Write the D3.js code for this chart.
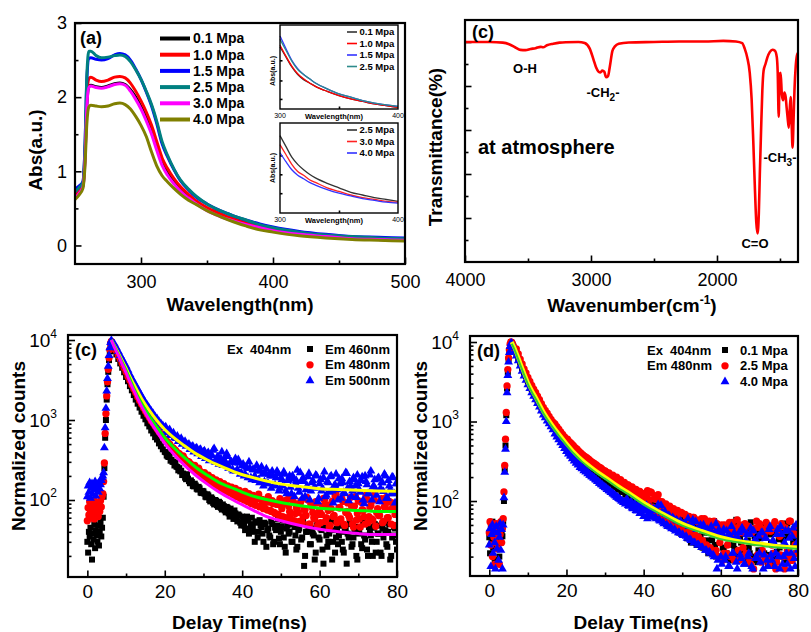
<!DOCTYPE html>
<html>
<head>
<meta charset="utf-8">
<script src="https://cdn.jsdelivr.net/npm/d3@7"></script>
<style>
  body { margin: 0; background: #fff; }
  svg { font-family: "Liberation Sans", Arial, Helvetica, sans-serif; }
</style>
</head>
<body>
<svg id="fig" width="811" height="632"></svg>
<script>
// ---------- (a) UV-vis absorption ----------
const wavelength = [250,253,256,257.5,259,260.5,262,266,270,275,280,284,288,292,296,300,304,308,312,316,320,325,330,336,342,350,360,370,380,390,400,420,440,460,480,500];
const abs01 = [0.66,0.72,0.80,1.15,1.9,2.14,2.16, 2.14,2.13,2.15,2.18,2.19,2.17,2.10,2.00, 1.87,1.72,1.55,1.33,1.12,0.99,0.86,0.75, 0.66,0.58,0.49,0.41,0.35,0.30,0.25,0.21, 0.15,0.12,0.10,0.08,0.07];
const abs10 = [0.68,0.74,0.82,1.2,2.0,2.25,2.27, 2.23,2.21,2.23,2.27,2.28,2.26,2.19,2.08, 1.95,1.80,1.62,1.40,1.18,1.04,0.90,0.79, 0.69,0.60,0.51,0.43,0.36,0.31,0.26,0.22, 0.16,0.13,0.10,0.09,0.08];
const abs15 = [0.76,0.80,0.86,1.3,2.25,2.52,2.53, 2.51,2.50,2.52,2.57,2.59,2.57,2.50,2.38, 2.24,2.07,1.88,1.64,1.37,1.20,1.02,0.87, 0.75,0.65,0.56,0.47,0.40,0.34,0.29,0.25, 0.19,0.15,0.12,0.11,0.10];
const abs25 = [0.72,0.78,0.85,1.3,2.3,2.62,2.62, 2.56,2.53,2.54,2.56,2.57,2.55,2.48,2.37, 2.24,2.08,1.90,1.67,1.40,1.22,1.03,0.88, 0.76,0.66,0.56,0.47,0.40,0.34,0.28,0.24, 0.18,0.14,0.12,0.10,0.09];
const abs30 = [0.64,0.70,0.79,1.12,1.88,2.13,2.15, 2.13,2.12,2.14,2.17,2.18,2.16,2.08,1.97, 1.84,1.68,1.50,1.28,1.08,0.95,0.83,0.73, 0.64,0.56,0.47,0.39,0.33,0.28,0.24,0.20, 0.15,0.12,0.09,0.08,0.07];
const abs40 = [0.62,0.68,0.77,1.05,1.65,1.87,1.89, 1.88,1.87,1.88,1.91,1.92,1.90,1.84,1.74, 1.62,1.47,1.26,1.07,0.94,0.86,0.77,0.69, 0.61,0.55,0.47,0.39,0.32,0.26,0.21,0.18, 0.13,0.10,0.08,0.07,0.06];
const pressureLabels = ['0.1 Mpa','1.0 Mpa','1.5 Mpa','2.5 Mpa','3.0 Mpa','4.0 Mpa'];
const wlTicks = [300, 400, 500];
const absTicks = [0, 1, 2, 3];

// insets of (a)
const insetWl = [300,305,310,315,320,325,330,340,350,360,370,380,390,400];
const insetTop01 = [0.74,0.62,0.50,0.41,0.35,0.31,0.27,0.21,0.16,0.12,0.09,0.06,0.04,0.02];
const insetTop10 = [0.76,0.63,0.51,0.42,0.36,0.31,0.27,0.21,0.16,0.12,0.09,0.06,0.04,0.02];
const insetTop15 = [0.87,0.72,0.58,0.48,0.41,0.36,0.31,0.24,0.18,0.14,0.10,0.07,0.05,0.03];
const insetTop25 = [0.83,0.70,0.57,0.47,0.41,0.36,0.31,0.24,0.18,0.14,0.10,0.07,0.05,0.03];
const insetBot25 = [0.86,0.74,0.62,0.54,0.48,0.43,0.39,0.33,0.28,0.23,0.20,0.17,0.15,0.13];
const insetBot30 = [0.76,0.65,0.54,0.46,0.42,0.37,0.34,0.28,0.24,0.20,0.17,0.15,0.13,0.12];
const insetBot40 = [0.67,0.57,0.48,0.42,0.38,0.34,0.31,0.26,0.22,0.19,0.16,0.14,0.12,0.11];

// ---------- (c) FTIR ----------
const irWavenumber = [4000,3900,3800,3700,3650,3600,3560,3520,3480,3440, 3400,3380,3350,3300,3250,3200,3100,3050,3010,2980,
  2960,2940,2925,2910,2895,2880,2865,2850,2830,2810, 2780,2700,2500,2300,2100,1950,1850,1800,1780,1760,
  1740,1725,1712,1700,1688,1678,1668,1660,1650,1640, 1630,1615,1600,1580,1560,1540,1525,1518,1510,1503,
  1495,1485,1475,1465,1455,1447,1440,1430,1422,1415, 1407,1400,1392,1385,1375,1365,1358];
const irTransmittance = [10.0,10.0,10.0,9.97,9.9,9.75,9.64,9.63,9.68,9.72, 9.78,9.76,9.85,9.92,9.97,9.99,10.0,9.95,9.7,9.2,
  8.85,8.65,8.62,8.7,8.65,8.4,8.45,8.9,9.6,9.8, 9.92,9.98,10.0,10.02,10.02,10.05,10.02,9.95,9.7,9.3,
  8.6,7.4,5.5,3.5,1.8,1.3,2.2,4.0,6.0,7.8, 8.7,9.0,9.3,9.55,9.65,9.6,9.3,8.6,6.6,8.5,
  8.6,7.6,7.35,7.7,7.5,7.0,6.6,6.1,7.0,7.5, 6.2,5.2,6.5,7.8,8.9,9.4,9.5];
const irTicks = [4000, 3000, 2000];

// ---------- (c)/(d) decays ----------
const decayTime = [0,0.2,0.4,0.6,0.8,1,1.2,1.4,1.6,1.8,2,2.2,2.4,2.6,2.8,3,3.2,3.4,3.6,3.8,4,
  4.2,4.4,4.6,4.8,5,5.2,5.4,5.6,5.8,6,6.2,6.6,
  7,7.5,8,8.5,9,9.5,10,10.5,11,11.5, 12,12.5,13,13.5,14,14.5,15,15.5,16,16.5,
  17,17.5,18,18.5,19,19.5,20,20.5,21,21.5, 22,22.5,23,23.5,24,24.5,25,25.5,26,26.5,
  27,27.5,28,28.5,29,29.5,30,30.5,31,31.5, 32,32.5,33,33.5,34,34.5,35,35.5,36,36.5,
  37,37.5,38,38.5,39,39.5,40,40.5,41,41.5, 42,42.5,43,43.5,44,44.5,45,45.5,46,46.5,
  47,47.5,48,48.5,49,49.5,50,50.5,51,51.5, 52,52.5,53,53.5,54,54.5,55,55.5,56,56.5,
  57,57.5,58,58.5,59,59.5,60,60.5,61,61.5, 62,62.5,63,63.5,64,64.5,65,65.5,66,66.5,
  67,67.5,68,68.5,69,69.5,70,70.5,71,71.5, 72,72.5,73,73.5,74,74.5,75,75.5,76,76.5,
  77,77.5,78,78.5,79,79.5,80];
// interleaved channels of the tail
const decayTimeB = [20.25,20.75,21.25,21.75,22.25,22.75,23.25,23.75,24.25,24.75,
  25.25,25.75,26.25,26.75,27.25,27.75,28.25,28.75,29.25,29.75,
  30.25,30.75,31.25,31.75,32.25,32.75,33.25,33.75,34.25,34.75,
  35.25,35.75,36.25,36.75,37.25,37.75,38.25,38.75,39.25,39.75,
  40.25,40.75,41.25,41.75,42.25,42.75,43.25,43.75,44.25,44.75,
  45.25,45.75,46.25,46.75,47.25,47.75,48.25,48.75,49.25,49.75,
  50.25,50.75,51.25,51.75,52.25,52.75,53.25,53.75,54.25,54.75,
  55.25,55.75,56.25,56.75,57.25,57.75,58.25,58.75,59.25,59.75,
  60.25,60.75,61.25,61.75,62.25,62.75,63.25,63.75,64.25,64.75,
  65.25,65.75,66.25,66.75,67.25,67.75,68.25,68.75,69.25,69.75,
  70.25,70.75,71.25,71.75,72.25,72.75,73.25,73.75,74.25,74.75,
  75.25,75.75,76.25,76.75,77.25,77.75,78.25,78.75,79.25,79.75];

const em460 = [30,22,40,35,45,28,18,38,32,50,25,42,36,30,48,27,40,52,35,45,60,
  110,250,600,1000,1800,2800,4000,5600,7200,8800,9400,8200,
  7300,6600,5800,5100,4500,3950,3450,3050,2650,2350, 2050,1800,1600,1430,1270,1130,1020,910,830,740,
  680,610,570,510,470,430,400,360,345,310, 300,270,262,235,228,205,205,182,185,162,
  168,148,152,135,140,122,128,110,118,100, 108,92,100,86,95,80,88,74,82,68,
  78,64,74,58,66,52,62,48,58,55, 44,60,40,52,34,56,46,30,50,42,
  36,54,28,45,48,33,40,55,26,44, 38,50,30,46,24,42,52,34,15,40,
  48,28,44,36,22,50,32,42,16,46, 26,38,54,30,22,44,36,48,24,40,
  16,34,50,28,42,20,38,46,25,36, 52,20,40,30,45,22,38,48,20,34,
  42,26,50,20,36,44,24];
const em460B = [395,350,372,318,300,292,258,250,232,214, 190,210,172,176,150,160,138,146,124,130,
  120,108,114,96,104,88,98,82,92,76, 84,70,80,62,72,58,68,54,64,48,
  56,42,62,38,50,46,30,54,40,48, 38,52,26,44,34,50,30,42,58,28,
  46,34,22,48,40,30,52,36,26,44, 32,56,20,40,46,28,38,18,48,34,
  44,24,50,36,30,56,18,42,34,28, 48,30,22,44,38,52,26,34,46,18,
  40,28,54,32,24,46,36,20,50,30, 38,22,44,52,28,40,18,34,46,30];
const em480 = [55,80,65,95,70,60,88,75,100,58,85,68,92,78,62,90,72,98,82,110,120,
  170,290,680,1200,2000,3000,4300,6000,7600,9000,9600,8400,
  8000,7300,6400,5800,5100,4500,4000,3500,3150,2750, 2450,2200,1950,1750,1580,1420,1300,1180,1080,980,
  920,840,780,720,670,620,570,540,500,470, 450,410,400,360,350,320,330,290,300,260,
  270,240,250,220,230,200,215,185,195,170, 185,160,172,150,162,140,155,130,148,125,
  140,118,135,110,128,105,122,100,118,95, 112,90,108,86,104,82,100,78,96,75,
  94,72,90,68,88,64,86,62,98,58, 84,66,110,55,80,70,92,52,76,64,
  100,50,82,60,95,48,74,66,105,54, 86,46,78,62,112,52,80,58,96,48,
  72,64,108,50,84,56,98,46,76,62, 115,52,82,58,100,47,78,64,104,54,
  88,60,96,50,80,66,92];
const em480B = [565,520,500,455,440,420,390,380,345,355, 320,305,300,280,265,270,240,250,225,215,
  220,196,205,180,190,168,178,160,170,148, 160,138,150,132,145,118,140,112,132,120,
  106,128,98,120,92,114,88,106,118,84, 102,80,95,110,74,98,70,92,66,104,
  78,90,60,102,72,56,94,68,82,54, 98,62,76,108,50,88,70,58,92,66,
  52,84,100,60,74,48,96,64,118,56, 80,104,50,70,92,60,84,46,110,68,
  58,94,74,50,102,62,86,56,120,70, 64,98,52,82,108,60,76,92,48,86];
const em500 = [110,150,125,165,105,140,160,118,150,135,170,112,145,158,125,165,138,155,175,190,200,
  220,450,800,1400,2300,3300,4700,6400,8000,9300,9900,8700,
  8900,8000,7200,6400,5800,5200,4700,4200,3700,3300, 3000,2700,2450,2200,2000,1800,1650,1520,1400,1290,
  1200,1100,1040,960,900,850,800,740,720,660, 650,600,590,540,560,500,520,470,490,430,
  460,400,440,380,420,350,400,330,380,310, 360,420,300,340,280,330,270,310,380,250,
  300,240,290,230,320,210,270,200,260,190, 250,180,240,175,230,165,260,150,220,160,
  210,140,200,155,230,130,190,150,210,120, 180,145,200,110,175,140,220,105,170,135,
  195,100,165,140,205,95,160,130,190,110, 170,125,200,92,155,135,185,105,165,120,
  215,98,150,130,180,108,160,125,195,90, 170,120,205,100,150,135,185,95,165,128,
  200,105,150,120,190,92,160];
const em500B = [820,700,760,640,690,600,630,560,590,520, 540,480,500,450,470,410,450,390,430,360,
  410,350,390,320,360,440,300,350,290,400, 320,270,350,250,300,230,330,240,290,220,
  280,210,250,300,190,240,200,270,180,230, 210,170,245,160,200,230,150,190,215,140,
  180,225,130,175,200,120,185,160,235,125, 170,190,110,150,215,130,175,145,200,105,
  180,140,225,115,165,195,130,150,210,100, 160,185,125,220,140,170,110,190,150,205,
  135,175,100,200,155,120,230,145,180,115, 190,140,165,210,105,175,135,195,120,160];

const p01 = [35,22,48,30,55,26,40,18,45,33,52,28,38,20,50,30,42,36,55,100,250,
  500,1200,2600,4200,6000,7800,9200,9900,9800,9300,8800,8000,
  7300,6300,5500,4700,4100,3700,3200,2900,2550,2300, 2100,1850,1700,1500,1360,1220,1150,1020,960,870,
  820,740,700,630,600,530,510,460,450,400, 400,360,360,320,325,290,300,270,280,245,
  265,225,240,210,225,195,210,180,195,165, 180,150,170,140,160,130,150,122,140,112,
  130,105,120,96,112,88,105,80,98,75, 92,70,85,66,80,62,78,56,72,52,
  70,48,64,45,60,42,58,40,62,36, 55,34,50,30,48,28,52,26,45,32,
  40,24,46,28,42,20,38,26,44,22, 36,18,40,25,58,20,34,24,42,18,
  32,22,44,20,30,17,38,22,35,19, 46,21,30,16,40,23,33,20,52,18,
  36,24,55,19,32,22,45];
const p01B = [500,470,440,420,385,370,350,330,320,300, 290,305,255,275,240,250,215,230,200,215,
  175,205,165,185,150,172,140,160,130,150, 120,145,112,132,100,125,95,114,88,108,
  82,100,76,94,70,88,64,82,60,78, 56,74,52,70,48,66,44,62,40,58,
  38,60,34,55,30,50,44,28,52,36, 26,48,40,22,45,32,56,20,38,30,
  42,24,50,34,18,44,28,52,22,38, 30,46,20,40,26,54,18,36,44,24,
  34,50,22,42,16,38,28,48,20,40, 26,44,32,18,52,24,40,30,46,22];
const p25 = [40,55,28,50,20,45,35,16,52,30,42,25,48,16,38,55,30,45,60,130,280,
  600,1300,2800,4500,6300,8000,9400,10000,9800,9400,8900,8100,
  8200,7100,6100,5300,4600,4100,3600,3200,2850,2560, 2320,2080,1880,1680,1500,1380,1270,1160,1060,980,
  930,860,800,740,690,640,600,560,520,500, 470,440,420,390,380,350,350,330,320,300,
  300,280,275,260,258,240,240,225,225,210, 212,195,200,180,185,168,172,158,160,150,
  150,138,140,128,132,120,122,112,135,104, 128,76,115,72,100,66,88,62,80,58,
  76,54,72,50,66,46,70,42,64,38, 58,35,62,32,55,30,60,28,50,26,
  56,24,48,22,52,20,46,18,50,22, 44,20,54,18,46,24,50,19,42,22,
  48,18,40,14,46,21,52,17,44,20, 50,16,42,22,55,17,40,21,48,14,
  44,20,56,18,38,22,50];
const p25B = [600,560,530,500,470,450,420,400,380,365, 350,335,320,305,295,285,270,262,250,240,
  232,220,212,200,195,186,178,170,165,156, 150,160,138,148,128,140,120,132,112,125,
  96,112,88,130,84,106,78,120,74,98, 70,92,64,86,60,80,56,76,52,72,
  50,68,46,64,42,62,38,58,35,54, 32,60,28,52,26,48,56,24,44,30,
  50,22,46,28,54,20,42,34,58,18, 40,26,52,22,48,16,44,30,56,20,
  46,24,38,54,18,42,28,50,14,44, 36,52,20,46,24,56,18,40,28,48];
const p40 = [28,45,15,38,50,22,42,30,14,48,25,40,18,35,52,24,44,14,50,110,230,
  450,1000,2300,3800,5600,7400,8800,9600,9700,9100,8500,7600,
  6700,5800,5000,4300,3750,3300,2900,2600,2300,2080, 1880,1690,1520,1360,1210,1120,1020,940,860,790,
  700,640,590,540,500,460,420,390,370,340, 320,300,285,265,255,240,232,220,212,202,
  195,185,176,168,160,154,148,140,135,128, 124,118,112,108,104,100,96,104,88,95,
  82,90,76,86,70,80,64,76,60,72, 66,80,62,76,58,88,54,74,50,66,
  47,62,44,58,40,56,38,52,36,60, 33,50,30,55,28,46,26,50,24,44,
  23,48,21,40,14,44,20,38,18,42, 15,36,22,40,17,34,21,46,16,32,
  20,38,15,42,19,30,22,40,14,34, 18,44,21,32,15,38,20,48,16,30,
  22,42,14,36,19,50,24];
const p40B = [430,400,370,350,325,305,290,272,260,248, 236,224,212,202,194,184,176,168,160,152,
  146,140,134,128,122,116,112,106,100,96, 92,104,86,98,80,92,75,86,70,82,
  75,88,70,82,64,78,60,90,56,72, 52,68,48,64,45,60,42,56,40,54,
  37,52,34,48,32,58,30,44,28,50, 26,46,24,42,22,40,20,52,18,38,
  16,44,20,36,15,48,22,34,14,40, 19,42,16,38,22,46,14,32,20,36,
  17,40,21,34,15,48,18,30,22,44, 14,38,20,42,16,34,22,46,15,30];

// fitted decay curves
const fitTimeC = [6.2,7,8,9,10,11,12,14,16,18,20,22,25,28,31,34,38,42,46,50,55,60,65,70,75,80];
const fit500 = [10000,8500,6900,5500,4450,3470,2820,1860,1320,980,760,620,480,380,316,270,224,195,174,158,148,138,135,132,130,129];
const fit480 = [10000,8300,6600,5250,4170,3240,2510,1620,1120,810,600,470,340,257,204,166,138,115,102,93,85,79,76,74,72,72];
const fit460 = [10000,8100,6450,5000,3900,3000,2340,1480,1000,710,510,390,275,204,158,126,98,78,63,55,48,43,40,38,37,37];
const fitTimeD = [5.8,6.5,7,8,9,10,11,12,14,16,18,20,22,24,26,28,30,33,36,40,45,50,55,60,65,70,75,80];
const fitDa = [10000,8500,7400,5500,4100,3100,2480,2030,1340,950,700,530,410,330,275,232,200,158,128,95,69,52,42,35,31,29,27,26];
const fitDb = [9500,8100,7000,5200,3900,2950,2350,1930,1270,900,665,505,390,313,261,220,190,150,122,90,66,49,40,33,30,27.5,26,25];
const timeTicks = [0, 20, 40, 60, 80];
const countTicks = [100, 1000, 10000];

// ================= drawing =================
const svg = d3.select('#fig');
const FONT = '"Liberation Sans", Arial, Helvetica, sans-serif';
const intFmt = d3.format('d');
svg.append('rect').attr('width', 811).attr('height', 632).attr('fill', '#fff');

function cleanAxis(sel, fs) {
  sel.attr('font-family', FONT).attr('font-size', fs);
  sel.select('.domain').remove();
  sel.selectAll('.tick line').attr('stroke', '#000').attr('stroke-width', 1.6);
  sel.selectAll('.tick text').attr('fill', '#000');
}
function frame(x0, y0, x1, y1, w) {
  svg.append('rect').attr('x', x0).attr('y', y0).attr('width', x1 - x0).attr('height', y1 - y0)
    .attr('fill', 'none').attr('stroke', '#000').attr('stroke-width', w || 2.2);
}
function clipRect(id, x0, y0, x1, y1) {
  svg.append('clipPath').attr('id', id).append('rect')
    .attr('x', x0).attr('y', y0).attr('width', x1 - x0).attr('height', y1 - y0);
  return svg.append('g').attr('clip-path', 'url(#' + id + ')');
}
function label(x, y, str, fs, opt) {
  opt = opt || {};
  const t = svg.append('text').attr('x', x).attr('y', y).attr('dy', '0.35em')
    .attr('font-size', fs).attr('font-weight', opt.weight || 'bold')
    .attr('text-anchor', opt.anchor || 'start').style('white-space', 'pre').text(str);
  if (opt.rotate) t.attr('transform', 'rotate(-90,' + x + ',' + y + ')');
  return t;
}

// ---------- panel (a) ----------
const ax = d3.scaleLinear().domain([250, 500]).range([75, 405]);
const ay = d3.scaleLinear().domain([-0.25, 3]).range([264, 23]);
svg.append('g').attr('transform', 'translate(0,264)')
  .call(d3.axisBottom(ax).tickValues([350, 450]).tickSize(-3.5).tickFormat('')).call(cleanAxis, 18);
svg.append('g').attr('transform', 'translate(0,264)')
  .call(d3.axisBottom(ax).tickValues(wlTicks).tickSize(-6.5).tickPadding(11).tickFormat(intFmt)).call(cleanAxis, 18);
svg.append('g').attr('transform', 'translate(75,0)')
  .call(d3.axisLeft(ay).tickValues([0.5, 1.5, 2.5]).tickSize(-3.5).tickFormat('')).call(cleanAxis, 18);
svg.append('g').attr('transform', 'translate(75,0)')
  .call(d3.axisLeft(ay).tickValues(absTicks).tickSize(-6.5).tickPadding(8).tickFormat(intFmt)).call(cleanAxis, 18);

const absSeries = [abs01, abs10, abs15, abs25, abs30, abs40];
const absColors = ['#000000', '#ff0000', '#0000ff', '#008080', '#ff00ff', '#808000'];
const gA = clipRect('clipA', 75, 23, 405, 264);
const aLine = d3.line().x(d => ax(d[0])).y(d => ay(d[1])).curve(d3.curveMonotoneX);
absSeries.forEach((vals, k) => {
  gA.append('path').datum(wavelength.map((w, i) => [w, vals[i]]))
    .attr('d', aLine).attr('fill', 'none').attr('stroke', absColors[k]).attr('stroke-width', 3);
});
frame(75, 23, 405, 264);
label(80, 38, '(a)', 18);
pressureLabels.forEach((p, i) => {
  const y = 38.5 + i * 16.2;
  svg.append('line').attr('x1', 160).attr('x2', 190).attr('y1', y).attr('y2', y)
    .attr('stroke', absColors[i]).attr('stroke-width', 4);
  label(193, y, p, 14);
});
label(35, 150, 'Abs(a.u.)', 19, { anchor: 'middle', rotate: true });
label(240, 304, 'Wavelength(nm)', 19, { anchor: 'middle' });

// insets
function inset(y0, y1, series, colors, names, yTicks, legendY, titleY) {
  const ix = d3.scaleLinear().domain([300, 400]).range([280, 398]);
  const iy = d3.scaleLinear().domain([0, 1]).range([y1, y0]);
  svg.append('rect').attr('x', 280).attr('y', y0).attr('width', 118).attr('height', y1 - y0).attr('fill', '#fff');
  svg.append('g').attr('transform', 'translate(0,' + y1 + ')')
    .call(d3.axisBottom(ix).tickValues([350]).tickSize(-2.5).tickFormat('')).call(cleanAxis, 7);
  svg.append('g').attr('transform', 'translate(280,0)')
    .call(d3.axisLeft(iy).tickValues(yTicks).tickSize(-2.5).tickFormat('')).call(cleanAxis, 7);
  const ln = d3.line().x(d => ix(d[0])).y(d => iy(d[1])).curve(d3.curveMonotoneX);
  series.forEach((vals, k) => {
    svg.append('path').datum(insetWl.map((w, i) => [w, vals[i]])).attr('d', ln)
      .attr('fill', 'none').attr('stroke', colors[k]).attr('stroke-width', 1.3);
  });
  frame(280, y0, 398, y1, 1.4);
  names.forEach((n, i) => {
    const y = legendY + i * 11.5;
    svg.append('line').attr('x1', 347).attr('x2', 357).attr('y1', y).attr('y2', y)
      .attr('stroke', colors[i]).attr('stroke-width', 1.6);
    label(359.5, y, n, 9.5);
  });
  label(280, y1 + 7, '300', 7, { anchor: 'middle', weight: 'normal' });
  label(398, y1 + 7, '400', 7, { anchor: 'middle', weight: 'normal' });
  label(334, y1 + 7.5, 'Wavelength(nm)', 7.5, { anchor: 'middle' });
  label(273, titleY, 'Abs(a.u.)', 7, { anchor: 'middle', rotate: true });
}
inset(25, 109, [insetTop01, insetTop10, insetTop15, insetTop25], ['#333333', '#ff0000', '#3333ff', '#2e8b8b'],
  pressureLabels.slice(0, 4), [0.12, 0.34, 0.58], 32, 71);
inset(123, 213, [insetBot25, insetBot30, insetBot40], ['#333333', '#ff2222', '#3333ff'],
  ['2.5 Mpa', '3.0 Mpa', '4.0 Mpa'], [0.22, 0.43, 0.64], 130, 168);

// ---------- panel (c) FTIR ----------
const irx = d3.scaleLinear().domain([4000, 1357]).range([465, 798]);
const iry = d3.scaleLinear().domain([0, 11]).range([262, 20]);
svg.append('g').attr('transform', 'translate(0,262)')
  .call(d3.axisBottom(irx).tickValues([3500, 2500, 1500]).tickSize(-3.5).tickFormat('')).call(cleanAxis, 18);
svg.append('g').attr('transform', 'translate(0,262)')
  .call(d3.axisBottom(irx).tickValues(irTicks).tickSize(-6.5).tickPadding(11).tickFormat(intFmt)).call(cleanAxis, 18);
svg.append('g').attr('transform', 'translate(465,0)')
  .call(d3.axisLeft(iry).tickValues([1, 3, 5, 7, 9]).tickSize(-3.5).tickFormat('')).call(cleanAxis, 18);
svg.append('g').attr('transform', 'translate(465,0)')
  .call(d3.axisLeft(iry).tickValues([2, 4, 6, 8, 10]).tickSize(-6.5).tickFormat('')).call(cleanAxis, 18);
const gIR = clipRect('clipIR', 465, 20, 798, 262);
gIR.append('path').datum(irWavenumber.map((w, i) => [w, irTransmittance[i]]))
  .attr('d', d3.line().x(d => irx(d[0])).y(d => iry(d[1])).curve(d3.curveMonotoneX))
  .attr('fill', 'none').attr('stroke', '#ff0000').attr('stroke-width', 2.6);
frame(465, 20, 798, 262);
label(472, 32, '(c)', 18);
label(525, 68, 'O-H', 13, { anchor: 'middle' });
const ch2 = label(603, 92, '-CH', 13, { anchor: 'middle' });
ch2.append('tspan').attr('dy', 4).attr('font-size', 10).text('2');
ch2.append('tspan').attr('dy', -4).text('-');
label(478, 147, 'at atmosphere', 20);
label(755, 243, 'C=O', 13, { anchor: 'middle' });
const ch3 = label(780, 157, '-CH', 13, { anchor: 'middle' });
ch3.append('tspan').attr('dy', 4).attr('font-size', 10).text('3');
ch3.append('tspan').attr('dy', -4).text('-');
label(435, 147, 'Transmittance(%)', 19, { anchor: 'middle', rotate: true });
const wn = label(632, 305, 'Wavenumber(cm', 19, { anchor: 'middle' });
wn.append('tspan').attr('dy', -8).attr('font-size', 12).text('-1');
wn.append('tspan').attr('dy', 8).text(')');

// ---------- decay panels ----------
const logMinor = [];
[10, 100, 1000].forEach(b => { for (let m = 2; m <= 9; m++) logMinor.push(b * m); });

function decayPanel(o) {
  const x = d3.scaleLinear().domain([-5, 80]).range([o.x0, o.x1]);
  const y = d3.scaleLog().domain(o.yDomain).range([o.y1, o.y0]);
  svg.append('g').attr('transform', 'translate(0,' + o.y1 + ')')
    .call(d3.axisBottom(x).tickValues([10, 30, 50, 70]).tickSize(-3.5).tickFormat('')).call(cleanAxis, 19);
  svg.append('g').attr('transform', 'translate(0,' + o.y1 + ')')
    .call(d3.axisBottom(x).tickValues(timeTicks).tickSize(-6.5).tickPadding(8).tickFormat(intFmt)).call(cleanAxis, 19);
  svg.append('g').attr('transform', 'translate(' + o.x0 + ',0)')
    .call(d3.axisLeft(y).tickValues(logMinor.filter(v => v > o.yDomain[0])).tickSize(-3.5).tickFormat('')).call(cleanAxis, 19);
  svg.append('g').attr('transform', 'translate(' + o.x0 + ',0)')
    .call(d3.axisLeft(y).tickValues(countTicks).tickSize(-7).tickFormat('')).call(cleanAxis, 19);
  countTicks.forEach(v => {
    const t = svg.append('text').attr('x', o.x0 - 11).attr('y', y(v) + 6.5).attr('text-anchor', 'end')
      .attr('font-size', 19).text('10');
    t.append('tspan').attr('dy', -9).attr('font-size', 12).text(String(Math.round(Math.log10(v))));
  });

  const g = clipRect(o.id, o.x0, o.y0, o.x1, o.y1);
  const shapes = [d3.symbolSquare, d3.symbolCircle, d3.symbolTriangle];
  const sizes = [36, 42, 34];
  const colors = ['#000000', '#ff0000', '#0000ff'];
  o.series.forEach((vals, k) => {
    const sym = d3.symbol().type(shapes[k]).size(sizes[k]);
    const pts = decayTime.map((t, i) => [t, vals[i]])
      .concat(decayTimeB.map((t, i) => [t, o.seriesB[k][i]]))
      .filter(d => d[1] >= o.yDomain[0]);
    g.append('g').selectAll('path').data(pts).join('path')
      .attr('transform', d => 'translate(' + x(d[0]) + ',' + y(d[1]) + ')')
      .attr('d', sym).attr('fill', colors[k]);
  });
  o.fits.forEach(f => {
    g.append('path').datum(f.t.map((t, i) => [t, f.v[i]]))
      .attr('d', d3.line().x(d => x(d[0])).y(d => y(d[1])).curve(d3.curveMonotoneX))
      .attr('fill', 'none').attr('stroke', f.color).attr('stroke-width', f.w);
  });
  frame(o.x0, o.y0, o.x1, o.y1);
  label(o.x0 + 7, o.y0 + 15, o.tag, 18);
  o.legend.forEach((n, i) => {
    const ly = o.y0 + 14 + i * 15.8;
    const sym = d3.symbol().type(shapes[i]).size(sizes[i]);
    svg.append('path').attr('transform', 'translate(' + o.legX + ',' + ly + ')').attr('d', sym).attr('fill', colors[i]);
    label(o.legX + 15, ly, n, 13);
  });
  o.notes.forEach((n, i) => label(o.noteX, o.y0 + 14 + i * 15.8, n, 13));
  label(o.x0 - 50, (o.y0 + o.y1) / 2 - 10, 'Normalized counts', 19, { anchor: 'middle', rotate: true });
  label((o.x0 + o.x1) / 2 + 7, 622, 'Delay Time(ns)', 19, { anchor: 'middle' });
}

decayPanel({
  id: 'clipC', x0: 68, x1: 397, y0: 335, y1: 577, yDomain: [10.9, 11550], tag: '(c)',
  series: [em460, em480, em500], seriesB: [em460B, em480B, em500B],
  fits: [
    { t: fitTimeC, v: fit500, color: '#ffff00', w: 3 },
    { t: fitTimeC, v: fit480, color: '#00ff00', w: 3 },
    { t: fitTimeC, v: fit460, color: '#ff00ff', w: 3 }
  ],
  legend: ['Em 460nm', 'Em 480nm', 'Em 500nm'], legX: 310,
  notes: ['Ex  404nm'], noteX: 227
});
decayPanel({
  id: 'clipD', x0: 470, x1: 798, y0: 336, y1: 576, yDomain: [11.4, 11900], tag: '(d)',
  series: [p01, p25, p40], seriesB: [p01B, p25B, p40B],
  fits: [
    { t: fitTimeD, v: fitDa, color: '#ffff00', w: 4 },
    { t: fitTimeD, v: fitDb, color: '#33cc33', w: 2 }
  ],
  legend: ['0.1 Mpa', '2.5 Mpa', '4.0 Mpa'], legX: 725,
  notes: ['Ex  404nm', 'Em 480nm'], noteX: 647
});
</script>
</body>
</html>
